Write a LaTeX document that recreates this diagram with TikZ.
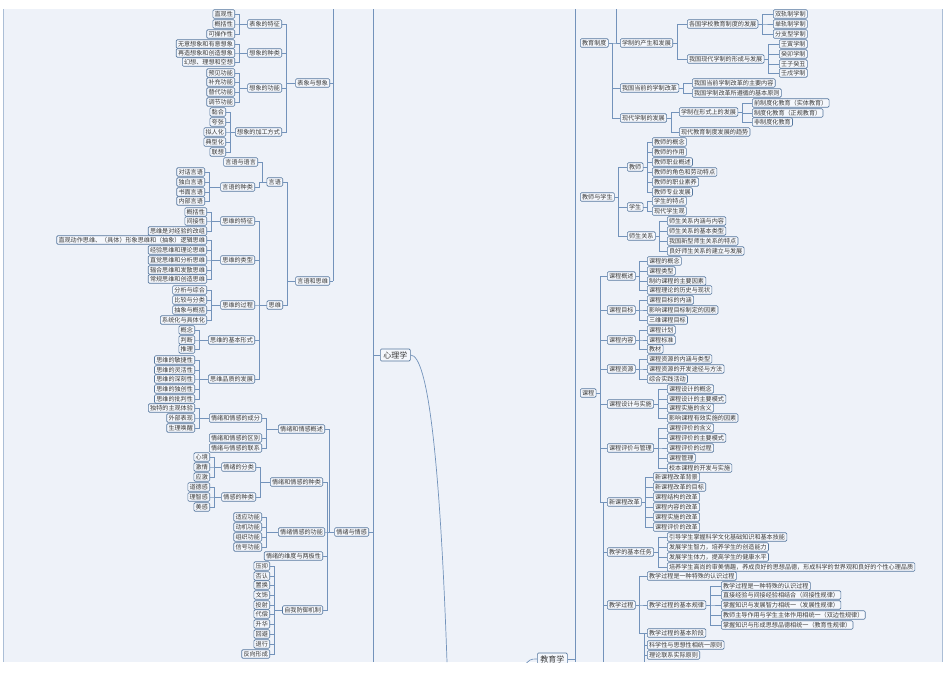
\documentclass[tikz,border=0pt]{standalone}
\usepackage{fontspec}
\setmainfont{Noto Sans CJK SC}
\begin{document}
\begin{tikzpicture}[x=1pt,y=1pt,
 box/.style={draw=boxc,fill=boxf,rounded corners=1.2pt,line width=0.6pt,inner xsep=1.8pt,inner ysep=0.6pt,minimum height=8.5pt,font=\fontsize{6.1}{6.5}\selectfont,text=txt},
 big/.style={box,font=\fontsize{8}{9}\selectfont,minimum height=12pt,inner xsep=3pt},
 conn/.style={draw=lnc,line width=0.7pt}]
\definecolor{bg}{HTML}{EEF2F9}\definecolor{boxc}{HTML}{55779E}\definecolor{boxf}{HTML}{F4F7FC}
\definecolor{lnc}{HTML}{7393BB}\definecolor{txt}{HTML}{3A3A3A}
\useasboundingbox (0,0) rectangle (950,-672);
\fill[white] (0,0) rectangle (950,-672);
\fill[bg] (3,-9) rectangle (942,-662);
\draw[lnc!60,line width=0.6pt] (3,-9) -- (3,-662);
\draw[lnc!60,line width=0.6pt] (942,-9) -- (942,-662);
\newcommand\Ln[4]{\node[box,anchor=east] (#1) at (#2,-#3) {#4};}
\newcommand\Rn[4]{\node[box,anchor=west] (#1) at (#2,-#3) {#4};}
\newcommand\K[2]{\draw[conn] (#1.east) -- ++(4,0) |- (#2.west);}
\begin{scope}
\clip (3,-9) rectangle (942,-662);
% ---------- left ----------
\Ln{a1}{235}{14}{直观性}\Ln{a2}{235}{24}{概括性}\Ln{a3}{235}{34}{可操作性}\Ln{A1}{282}{24}{表象的特征}
\Ln{a4}{235}{44}{无意想象和有意想象}\Ln{a5}{235}{53}{再造想象和创造想象}\Ln{a6}{235}{62}{幻想、理想和空想}\Ln{A2}{282}{53}{想象的种类}
\Ln{a7}{235}{73}{预见功能}\Ln{a8}{235}{82}{补充功能}\Ln{a9}{235}{92}{替代功能}\Ln{a10}{235}{102}{调节功能}\Ln{A3}{282}{88}{想象的功能}
\Ln{a11}{226}{112}{黏合}\Ln{a12}{226}{122}{夸张}\Ln{a13}{226}{132}{拟人化}\Ln{a14}{226}{142}{典型化}\Ln{a15}{226}{152}{联想}\Ln{A4}{282}{132}{想象的加工方式}
\Ln{B}{330}{83}{表象与想象}
\foreach \c in {a1,a2,a3}{\K{\c}{A1}}
\foreach \c in {a4,a5,a6}{\K{\c}{A2}}
\foreach \c in {a7,a8,a9,a10}{\K{\c}{A3}}
\foreach \c in {a11,a12,a13,a14,a15}{\K{\c}{A4}}
\foreach \c in {A1,A2,A3,A4}{\K{\c}{B}}
\Ln{b1}{258}{162}{言语与语言}\Ln{c1}{205}{172}{对话言语}\Ln{c2}{205}{182}{独白言语}\Ln{c3}{205}{192}{书面言语}\Ln{c4}{205}{201}{内部言语}
\Ln{b2}{255}{187}{言语的种类}\Ln{b}{283}{182}{言语}
\foreach \c in {c1,c2,c3,c4}{\K{\c}{b2}}
\K{b1}{b}\K{b2}{b}
\Ln{d1}{207}{212}{概括性}\Ln{d2}{207}{221}{间接性}\Ln{d3}{207}{231}{思维是对经验的改组}\Ln{D1}{255}{221}{思维的特征}
\Ln{d4}{207}{240}{直观动作思维、（具体）形象思维和（抽象）逻辑思维}\Ln{d5}{207}{250}{经验思维和理论思维}\Ln{d6}{207}{260}{直觉思维和分析思维}\Ln{d7}{207}{270}{辐合思维和发散思维}\Ln{d8}{207}{279}{常规思维和创造思维}\Ln{D2}{255}{260}{思维的类型}
\Ln{d9}{207}{290}{分析与综合}\Ln{d10}{207}{300}{比较与分类}\Ln{d11}{207}{310}{抽象与概括}\Ln{d12}{207}{320}{系统化与具体化}\Ln{D3}{255}{305}{思维的过程}
\Ln{d13}{195}{330}{概念}\Ln{d14}{195}{340}{判断}\Ln{d15}{195}{349}{推理}\Ln{D4}{255}{340}{思维的基本形式}
\Ln{d16}{195}{360}{思维的敏捷性}\Ln{d17}{195}{370}{思维的灵活性}\Ln{d18}{195}{379}{思维的深刻性}\Ln{d19}{195}{389}{思维的独创性}\Ln{d20}{195}{399}{思维的批判性}\Ln{D5}{255}{379}{思维品质的发展}
\Ln{D}{283}{305}{思维}\Ln{C}{330}{281}{言语和思维}
\foreach \c in {d1,d2,d3}{\K{\c}{D1}}
\foreach \c in {d4,d5,d6,d7,d8}{\K{\c}{D2}}
\foreach \c in {d9,d10,d11,d12}{\K{\c}{D3}}
\foreach \c in {d13,d14,d15}{\K{\c}{D4}}
\foreach \c in {d16,d17,d18,d19,d20}{\K{\c}{D5}}
\foreach \c in {D1,D2,D3,D4,D5}{\K{\c}{D}}
\K{b}{C}\K{D}{C}
\draw[conn] (333,-9) -- (333,-281);
\draw[conn] (B.east) -- (333,-83);\draw[conn] (C.east) -- (333,-281);
\Ln{e1}{195}{408}{独特的主观体验}\Ln{e2}{195}{418}{外部表现}\Ln{e3}{195}{428}{生理唤醒}\Ln{E1}{262}{418}{情绪和情感的成分}
\Ln{E2}{262}{438}{情绪和情感的区别}\Ln{E3}{262}{448}{情绪与情感的联系}\Ln{F1}{325}{429}{情绪和情感概述}
\foreach \c in {e1,e2,e3}{\K{\c}{E1}}
\foreach \c in {E1,E2,E3}{\K{\c}{F1}}
\Ln{f1}{210}{457}{心境}\Ln{f2}{210}{467}{激情}\Ln{f3}{210}{477}{应激}\Ln{f4}{256}{467}{情绪的分类}
\Ln{f5}{210}{487}{道德感}\Ln{f6}{210}{497}{理智感}\Ln{f7}{210}{507}{美感}\Ln{f8}{256}{497}{情感的种类}
\Ln{F2}{323}{482}{情绪和情感的种类}
\foreach \c in {f1,f2,f3}{\K{\c}{f4}}
\foreach \c in {f5,f6,f7}{\K{\c}{f8}}
\K{f4}{F2}\K{f8}{F2}
\Ln{g1}{262}{517}{适应功能}\Ln{g2}{262}{527}{动机功能}\Ln{g3}{262}{537}{组织功能}\Ln{g4}{262}{547}{信号功能}\Ln{F3}{325}{532}{情绪情感的功能}
\foreach \c in {g1,g2,g3,g4}{\K{\c}{F3}}
\Ln{F4}{323}{556}{情绪的维度与两极性}
\Ln{h1}{270}{566}{压抑}\Ln{h2}{270}{576}{否认}\Ln{h3}{270}{585}{置换}\Ln{h4}{270}{595}{文饰}\Ln{h5}{270}{605}{投射}
\Ln{h6}{270}{614}{代偿}\Ln{h7}{270}{624}{升华}\Ln{h8}{270}{634}{回避}\Ln{h9}{270}{644}{退行}\Ln{h10}{270}{654}{反向形成}
\Ln{F5}{323}{610}{自我防御机制}
\foreach \c in {h1,h2,h3,h4,h5,h6,h7,h8,h9,h10}{\K{\c}{F5}}
\Ln{G}{369}{532}{情绪与情感}
\foreach \c in {F1,F2,F3,F4,F5}{\K{\c}{G}}
% ---------- center ----------
\draw[conn] (373,-9) -- (373,-662);
\draw[conn] (G.east) -- (373,-532);
\node[big,anchor=west] (xl) at (380,-355) {心理学};
\draw[conn] (373,-355) -- (xl.west);
\coordinate (root) at (447,-662);
\draw[conn] (xl.east) .. controls (428,-355) and (440,-460) .. (root);
% ---------- right ----------
\draw[conn] (575,-9) -- (575,-662);
\Rn{R1}{580}{43}{教育制度}
\Rn{R11}{620}{43}{学制的产生和发展}\Rn{R12}{620}{88}{我国当前的学制改革}\Rn{R13}{620}{118}{现代学制的发展}
\Rn{r1}{687}{24}{各国学校教育制度的发展}\Rn{r2}{687}{59}{我国现代学制的形成与发展}
\Rn{r3}{773}{14}{双轨制学制}\Rn{r4}{773}{24}{单轨制学制}\Rn{r5}{773}{34}{分支型学制}
\Rn{r6}{779}{44}{壬寅学制}\Rn{r7}{779}{54}{癸卯学制}\Rn{r8}{779}{64}{壬子癸丑}\Rn{r9}{779}{73}{壬戌学制}
\Rn{r10}{692}{83}{我国当前学制改革的主要内容}\Rn{r11}{692}{93}{我国学制改革所遵循的基本原则}
\Rn{r12}{679}{112}{学制在形式上的发展}\Rn{r13}{679}{132}{现代教育制度发展的趋势}
\Rn{r14}{752}{103}{前制度化教育（实体教育）}\Rn{r15}{752}{113}{制度化教育（正规教育）}\Rn{r16}{752}{122}{非制度化教育}
\draw[conn] (616,-9) -- (616,-43);
\foreach \c in {R11,R12,R13}{\K{R1}{\c}}
\K{R11}{r1}\K{R11}{r2}
\foreach \c in {r3,r4,r5}{\K{r1}{\c}}
\foreach \c in {r6,r7,r8,r9}{\K{r2}{\c}}
\K{R12}{r10}\K{R12}{r11}\K{R13}{r12}\K{R13}{r13}
\foreach \c in {r14,r15,r16}{\K{r12}{\c}}
\Rn{R2}{580}{197}{教师与学生}
\Rn{s1}{627}{167}{教师}\Rn{s2}{627}{207}{学生}\Rn{s3}{627}{236}{师生关系}
\Rn{t1}{652}{142}{教师的概念}\Rn{t2}{652}{152}{教师的作用}\Rn{t3}{652}{162}{教师职业概述}\Rn{t4}{652}{172}{教师的角色和劳动特点}\Rn{t5}{652}{182}{教师的职业素养}\Rn{t6}{652}{192}{教师专业发展}
\Rn{t7}{652}{201}{学生的特点}\Rn{t8}{652}{211}{现代学生观}
\Rn{t9}{667}{221}{师生关系内涵与内容}\Rn{t10}{667}{231}{师生关系的基本类型}\Rn{t11}{667}{241}{我国新型师生关系的特点}\Rn{t12}{667}{251}{良好师生关系的建立与发展}
\foreach \c in {s1,s2,s3}{\K{R2}{\c}}
\foreach \c in {t1,t2,t3,t4,t5,t6}{\K{s1}{\c}}
\K{s2}{t7}\K{s2}{t8}
\foreach \c in {t9,t10,t11,t12}{\K{s3}{\c}}
\Rn{R3}{580}{393}{课程}
\Rn{k1}{607}{276}{课程概述}\Rn{k2}{607}{310}{课程目标}\Rn{k3}{607}{340}{课程内容}\Rn{k4}{607}{369}{课程资源}\Rn{k5}{607}{404}{课程设计与实施}\Rn{k6}{607}{448}{课程评价与管理}\Rn{k7}{607}{502}{新课程改革}
\foreach \c in {k1,k2,k3,k4,k5,k6,k7}{\K{R3}{\c}}
\Rn{m1}{647}{261}{课程的概念}\Rn{m2}{647}{271}{课程类型}\Rn{m3}{647}{281}{制约课程的主要因素}\Rn{m4}{647}{290}{课程理论的历史与现状}
\Rn{m5}{647}{300}{课程目标的内涵}\Rn{m6}{647}{310}{影响课程目标制定的因素}\Rn{m7}{647}{320}{三维课程目标}
\Rn{m8}{647}{330}{课程计划}\Rn{m9}{647}{340}{课程标准}\Rn{m10}{647}{349}{教材}
\Rn{m11}{647}{359}{课程资源的内涵与类型}\Rn{m12}{647}{369}{课程资源的开发途径与方法}\Rn{m13}{647}{379}{综合实践活动}
\Rn{m14}{667}{389}{课程设计的概念}\Rn{m15}{667}{399}{课程设计的主要模式}\Rn{m16}{667}{408}{课程实施的含义}\Rn{m17}{667}{418}{影响课程有效实施的因素}
\Rn{m18}{667}{428}{课程评价的含义}\Rn{m19}{667}{438}{课程评价的主要模式}\Rn{m20}{667}{448}{课程评价的过程}\Rn{m21}{667}{458}{课程管理}\Rn{m22}{667}{468}{校本课程的开发与实施}
\Rn{m23}{653}{477}{新课程改革背景}\Rn{m24}{653}{487}{新课程改革的目标}\Rn{m25}{653}{497}{课程结构的改革}\Rn{m26}{653}{507}{课程内容的改革}\Rn{m27}{653}{517}{课程实施的改革}\Rn{m28}{653}{527}{课程评价的改革}
\foreach \c in {m1,m2,m3,m4}{\K{k1}{\c}}
\foreach \c in {m5,m6,m7}{\K{k2}{\c}}
\foreach \c in {m8,m9,m10}{\K{k3}{\c}}
\foreach \c in {m11,m12,m13}{\K{k4}{\c}}
\foreach \c in {m14,m15,m16,m17}{\K{k5}{\c}}
\foreach \c in {m18,m19,m20,m21,m22}{\K{k6}{\c}}
\foreach \c in {m23,m24,m25,m26,m27,m28}{\K{k7}{\c}}
% teaching
\draw[conn] (603,-502) -- (603,-662);
\Rn{T1}{607}{552}{教学的基本任务}\Rn{T2}{607}{605}{教学过程}
\draw[conn] (603,-552) -- (T1.west);\draw[conn] (603,-605) -- (T2.west);
\Rn{n1}{667}{537}{引导学生掌握科学文化基础知识和基本技能}\Rn{n2}{667}{547}{发展学生智力，培养学生的创造能力}\Rn{n3}{667}{557}{发展学生体力，提高学生的健康水平}
\Rn{n4}{667}{567}{培养学生高尚的审美情趣，养成良好的思想品德，形成科学的世界观和良好的个性心理品质}
\foreach \c in {n1,n2,n3,n4}{\K{T1}{\c}}
\Rn{p1}{647}{576}{教学过程是一种特殊的认识过程}\Rn{p2}{647}{605}{教学过程的基本规律}\Rn{p3}{647}{633}{教学过程的基本阶段}
\foreach \c in {p1,p2,p3}{\K{T2}{\c}}
\draw[conn] (644,-633) -- (644,-662);
\Rn{p4}{647}{645}{科学性与思想性相统一原则}\Rn{p5}{647}{655}{理论联系实际原则}
\draw[conn] (644,-645) -- (p4.west);\draw[conn] (644,-655) -- (p5.west);
\Rn{q1}{721}{586}{教学过程是一种特殊的认识过程}\Rn{q2}{721}{595}{直接经验与间接经验相结合（间接性规律）}\Rn{q3}{721}{605}{掌握知识与发展智力相统一（发展性规律）}
\Rn{q4}{721}{615}{教师主导作用与学生主体作用相统一（双边性规律）}\Rn{q5}{721}{625}{掌握知识与形成思想品德相统一（教育性规律）}
\foreach \c in {q1,q2,q3,q4,q5}{\K{p2}{\c}}
\node[big,anchor=west] (jy) at (537,-659) {教育学};
\draw[conn] (jy.east) -- (575,-659);
\coordinate (jyl) at (522,-668);
\draw[conn] (jy.west) .. controls (530,-659) .. (jyl);
\end{scope}
\end{tikzpicture}
\end{document}
